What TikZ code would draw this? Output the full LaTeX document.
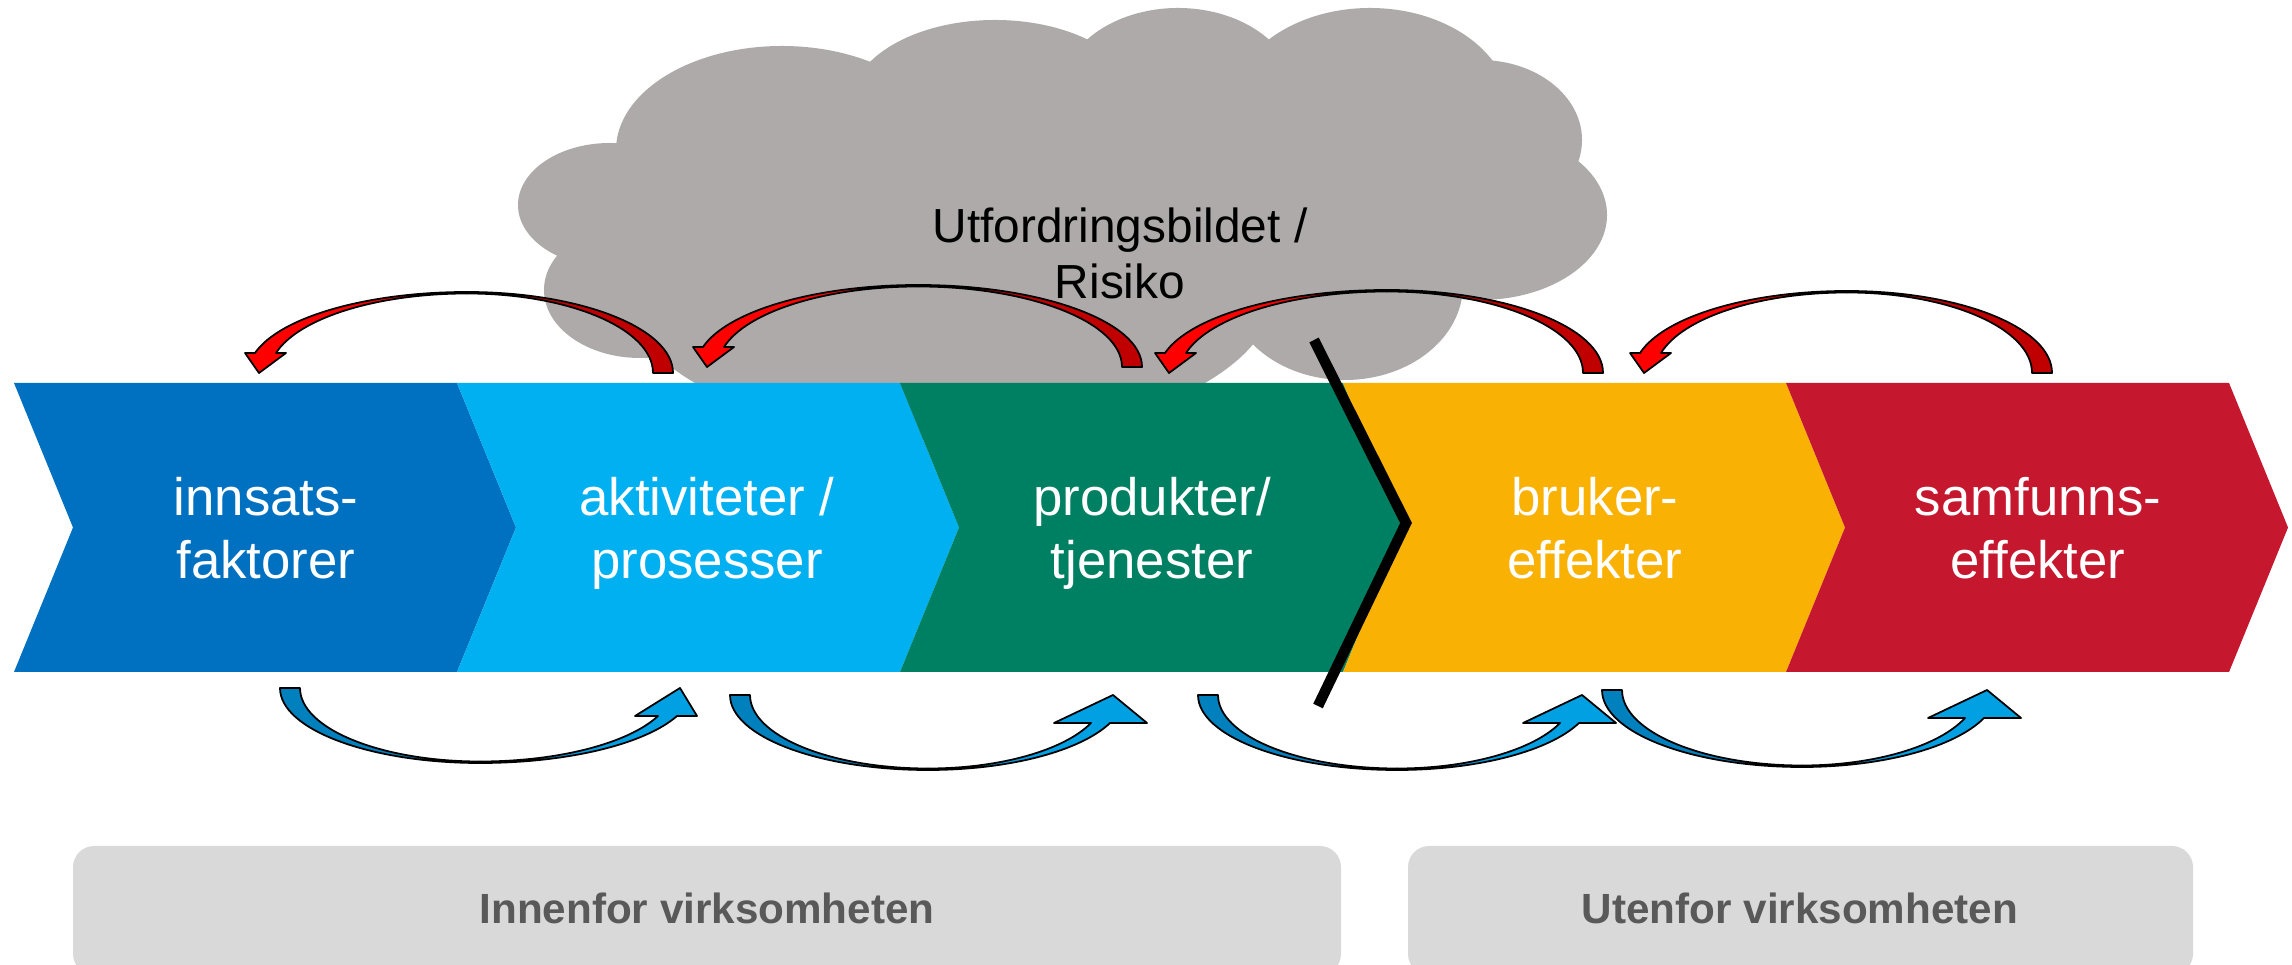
\documentclass[tikz,border=0pt]{standalone}
\usepackage{fontspec}
\setmainfont{Liberation Sans}
\definecolor{cloudgrey}{HTML}{AEAAAA}
\definecolor{boxgrey}{HTML}{D9D9D9}
\definecolor{boxtext}{HTML}{595959}
\definecolor{chevA}{HTML}{0070C0}
\definecolor{chevB}{HTML}{00B0F0}
\definecolor{chevC}{HTML}{008062}
\definecolor{chevD}{HTML}{F9B104}
\definecolor{chevE}{HTML}{C5172E}
\definecolor{redlight}{HTML}{FF0000}
\definecolor{reddark}{HTML}{C00000}
\definecolor{bluelight}{HTML}{00A0E3}
\definecolor{bluedark}{HTML}{0080BD}
\tikzset{
  chevtext/.style={text=white, align=center, font=\fontsize{15}{18}\selectfont},
  cloudtext/.style={text=black, align=center, font=\fontsize{13.6}{16}\selectfont},
  ribbon/.style={draw=black, line width=0.5pt, line join=round},
  areabox/.style={fill=boxgrey, rounded corners=6pt},
  areatext/.style={text=boxtext, anchor=base, font=\fontsize{12}{14}\selectfont\bfseries}
}
\begin{document}
\begin{tikzpicture}[x=0.01cm, y=-0.01cm]
  \useasboundingbox (0,0) rectangle (2292,965);
  \clip (0,0) rectangle (2292,965);
  % cloud
  \fill[cloudgrey] (1060,190) ellipse [x radius=440, y radius=140];
  \foreach \cx/\cy/\rx/\ry in {610/205/92/62, 782/150/166/104, 995/105/145/85,
      1178/95/118/87, 1370/110/140/102, 1480/140/102/80, 1480/215/127/85,
      1345/285/118/95, 950/290/325/150, 640/290/96/68}
    \fill[cloudgrey] (\cx,\cy) ellipse [x radius=\rx, y radius=\ry];
  % chevrons
  \foreach \i/\col in {0/chevA, 1/chevB, 2/chevC, 3/chevD, 4/chevE}
    \fill[\col] ({14+443*\i},383) -- ++(443,0) -- ++(59,144.5) -- ++(-59,144.5)
      -- ++(-443,0) -- ++(59,-144.5) -- cycle;
  % red arrows
  \foreach \xt/\xm/\xh/\yb/\ya in {663/467/259/373/292, 1132/918/707/367/285,
      1593/1387/1169/373/290, 2042/1847/1644/373/291}{
    \pgfmathsetmacro{\rOut}{\xt+10-\xm}
    \pgfmathsetmacro{\rIn}{\xt-10-\xm}
    \pgfmathsetmacro{\hOut}{\yb-\ya}
    \pgfmathsetmacro{\hIn}{\hOut-1.5}
    \pgfmathsetmacro{\aOut}{asin(20/\hOut)}
    \pgfmathsetmacro{\aIn}{asin(20/\hIn)}
    \pgfmathsetmacro{\lOut}{(\xm-\xh+4)/cos(\aOut)}
    \pgfmathsetmacro{\lIn}{(\xm-\xh-17)/cos(\aIn)}
    \fill[reddark, ribbon] (\xt+10,\yb)
      arc[start angle=0, end angle=-90, x radius=\rOut, y radius=\hOut]
      -- (\xm,\ya+1.5)
      arc[start angle=-90, end angle=0, x radius=\rIn, y radius=\hIn] -- cycle;
    \fill[redlight, ribbon] (\xm,\ya)
      arc[start angle=-90, end angle=\aOut-180, x radius=\lOut, y radius=\hOut]
      -- (\xh-14,\yb-20) -- (\xh,\yb) -- (\xh+27,\yb-20) -- (\xh+17,\yb-20)
      arc[start angle=\aIn-180, end angle=-90, x radius=\lIn, y radius=\hIn] -- cycle;
  }
  \node[cloudtext] (risk) at (1120,259) {\strut Utfordringsbildet /\\\strut Risiko};
  \node[chevtext] (inn) at (266,534) {\strut innsats-\\\strut faktorer};
  \node[chevtext] (akt) at (707,534) {\strut aktiviteter /\\\strut prosesser};
  \node[chevtext] (pro) at (1152,534) {\strut produkter/\\\strut tjenester};
  \node[chevtext] (bru) at (1595,534) {\strut bruker-\\\strut effekter};
  \node[chevtext] (sam) at (2038,534) {\strut samfunns-\\\strut effekter};
  % blue arrows
  \foreach \xt/\xm/\xh/\yt/\ya/\wingl/\wingr in {290/480/680/688/763/45/17,
      740/928/1113/695/770/59/34, 1208/1397/1582/695/770/59/34,
      1612/1802/1987/690/767/59/34}{
    \pgfmathsetmacro{\rOut}{\xm-\xt+10}
    \pgfmathsetmacro{\rIn}{\xm-\xt-10}
    \pgfmathsetmacro{\hOut}{\ya-\yt}
    \pgfmathsetmacro{\hIn}{\hOut-1.5}
    \pgfmathsetmacro{\aOut}{asin(28/\hOut)}
    \pgfmathsetmacro{\aIn}{asin(28/\hIn)}
    \pgfmathsetmacro{\lOut}{(\xh-3-\xm)/cos(\aOut)}
    \pgfmathsetmacro{\lIn}{(\xh-22-\xm)/cos(\aIn)}
    \fill[bluedark, ribbon] (\xt-10,\yt)
      arc[start angle=180, end angle=90, x radius=\rOut, y radius=\hOut]
      -- (\xm,\ya-1.5)
      arc[start angle=90, end angle=180, x radius=\rIn, y radius=\hIn] -- cycle;
    \fill[bluelight, ribbon] (\xm,\ya)
      arc[start angle=90, end angle=\aOut, x radius=\lOut, y radius=\hOut]
      -- (\xh+\wingr,\yt+28) -- (\xh,\yt) -- (\xh-\wingl,\yt+28) -- (\xh-22,\yt+28)
      arc[start angle=\aIn, end angle=90, x radius=\lIn, y radius=\hIn] -- cycle;
  }
  % areas
  \fill[areabox] (73,846) rectangle (1341,975);
  \node[areatext] (inside) at (707,923) {Innenfor virksomheten};
  \fill[areabox] (1408,846) rectangle (2193,975);
  \node[areatext] (outside) at (1800,923) {Utenfor virksomheten};
  % boundary
  \draw[line width=3pt] (1314,340) -- (1406,523) -- (1318,706);
\end{tikzpicture}
\end{document}
